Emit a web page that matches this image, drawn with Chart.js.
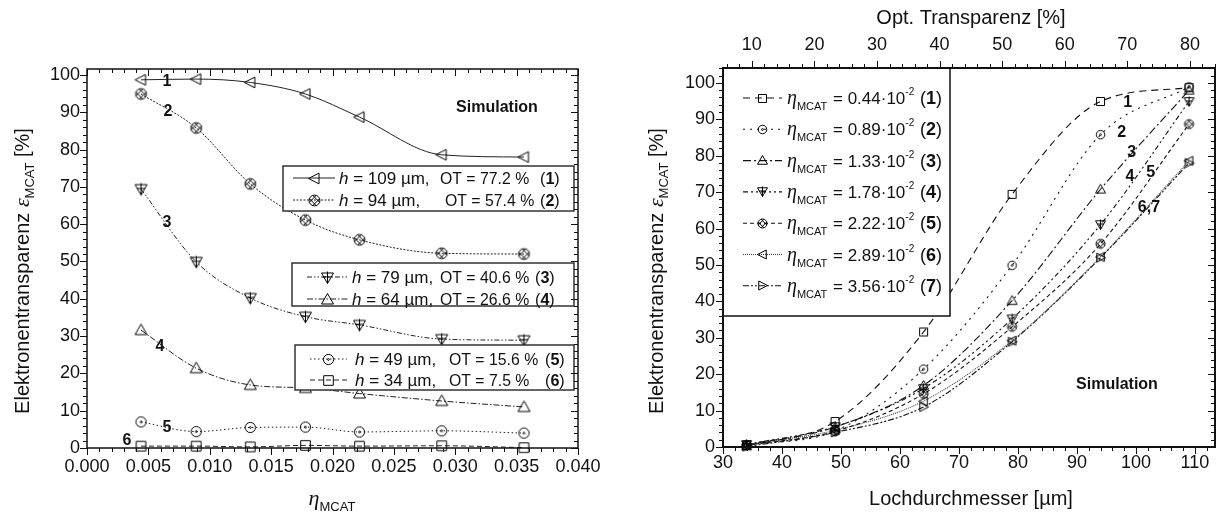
<!DOCTYPE html>
<html>
<head>
<meta charset="utf-8">
<script src="https://cdn.jsdelivr.net/npm/chart.js@4"></script>
<style>
  html, body { margin: 0; padding: 0; background: #fff; }
  #wrap { position: relative; width: 1222px; height: 520px; }
  canvas { position: absolute; top: 0; }
  #left { left: 0; }
  #right { left: 610px; }
</style>
</head>
<body>
<div id="wrap">
  <canvas id="left" width="610" height="520"></canvas>
  <canvas id="right" width="612" height="520"></canvas>
</div>
<script>
// grid parameters
const etaMcat = [0.0044, 0.0089, 0.0133, 0.0178, 0.0222, 0.0289, 0.0356];
const etaLabels = ['0.44', '0.89', '1.33', '1.78', '2.22', '2.89', '3.56'];
const holeDiam = [34, 49, 64, 79, 94, 109];
const optTrans = ['7.5', '15.6', '26.6', '40.6', '57.4', '77.2'];

// simulated electron transparency [%] for each hole diameter, over etaMcat
const eps34 = [0.5, 0.5, 0.3, 0.7, 0.5, 0.6, 0.1];
const eps49 = [7.0, 4.4, 5.5, 5.6, 4.3, 4.6, 4.0];
const eps64 = [31.6, 21.4, 16.9, 16.1, 14.6, 12.6, 11.0];
const eps79 = [69.4, 49.9, 40.2, 35.2, 33.0, 29.2, 28.9];
const eps94 = [94.9, 85.8, 70.8, 61.1, 55.8, 52.2, 52.0];
const eps109 = [98.7, 98.9, 98.0, 94.9, 88.7, 78.6, 78.0];
const epsByHole = [eps34, eps49, eps64, eps79, eps94, eps109];

const sans = '"Liberation Sans", Arial, sans-serif';
const serif = '"Liberation Serif", "Times New Roman", serif';
const ink = '#111';

// hollow marker glyphs drawn once into small canvases
function marker(kind, r) {
  const s = 2 * Math.ceil(r) + 5;
  const c = document.createElement('canvas');
  c.width = s; c.height = s;
  const g = c.getContext('2d');
  const m = s / 2;
  g.strokeStyle = '#000';
  g.lineWidth = 1;
  g.beginPath();
  if (kind === 'square') {
    g.rect(m - r * 0.8, m - r * 0.8, r * 1.6, r * 1.6);
  } else if (kind === 'circleDot') {
    g.arc(m, m, r * 0.85, 0, 2 * Math.PI);
    g.moveTo(m + 0.9, m);
    g.arc(m, m, 0.9, 0, 2 * Math.PI);
  } else if (kind === 'circleX') {
    // hatched cross: two strokes each way inside a ring
    g.arc(m, m, r * 0.9, 0, 2 * Math.PI);
    const d = r * 0.6, o = r * 0.28;
    [-o, o].forEach(k => {
      g.moveTo(m - d + k, m - d - k); g.lineTo(m + d + k, m + d - k);
      g.moveTo(m + d + k, m - d + k); g.lineTo(m - d + k, m + d + k);
    });
  } else if (kind === 'triUp') {
    g.moveTo(m, m - r); g.lineTo(m + r, m + r * 0.75); g.lineTo(m - r, m + r * 0.75); g.closePath();
  } else if (kind === 'triDownCross') {
    g.moveTo(m, m + r); g.lineTo(m + r, m - r * 0.75); g.lineTo(m - r, m - r * 0.75); g.closePath();
    g.moveTo(m, m - r); g.lineTo(m, m + r);
    g.moveTo(m - r * 0.7, m - r * 0.1); g.lineTo(m + r * 0.7, m - r * 0.1);
  } else if (kind === 'triLeft') {
    g.moveTo(m - r, m); g.lineTo(m + r * 0.75, m - r * 0.9); g.lineTo(m + r * 0.75, m + r * 0.9); g.closePath();
  } else if (kind === 'triRight') {
    g.moveTo(m + r, m); g.lineTo(m - r * 0.75, m - r * 0.9); g.lineTo(m - r * 0.75, m + r * 0.9); g.closePath();
  }
  g.stroke();
  return c;
}

// draws a run of text pieces with their own fonts and baseline shifts
function richWidth(ctx, parts) {
  let w = 0;
  parts.forEach(p => { ctx.font = p.f; w += ctx.measureText(p.t).width; });
  return w;
}
function drawRich(ctx, x, y, parts, hs = 1) {
  ctx.save();
  ctx.translate(x, y);
  ctx.scale(hs, 1);
  let cx = 0;
  parts.forEach(p => {
    ctx.font = p.f;
    ctx.fillText(p.t, cx, p.dy || 0);
    cx += ctx.measureText(p.t).width;
  });
  ctx.restore();
  return x + cx * hs;
}

function sample(ctx, ds, x0, x1, y) {
  ctx.save();
  ctx.strokeStyle = ds.borderColor;
  ctx.lineWidth = ds.borderWidth;
  ctx.setLineDash(ds.borderDash || []);
  ctx.beginPath(); ctx.moveTo(x0, y); ctx.lineTo(x1, y); ctx.stroke();
  ctx.restore();
  const im = ds.pointStyle;
  ctx.drawImage(im, Math.round((x0 + x1) / 2 - im.width / 2), Math.round(y - im.height / 2));
}

// frame around the plot area plus major/minor tick marks on every side
const frameTicks = {
  id: 'frameTicks',
  afterDraw(chart, args, opts) {
    const { ctx, chartArea: a } = chart;
    ctx.save();
    ctx.strokeStyle = ink;
    ctx.lineWidth = opts.frame;
    ctx.strokeRect(a.left, a.top, a.right - a.left, a.bottom - a.top);
    ctx.lineWidth = 1;
    ctx.beginPath();
    opts.sides.forEach(s => {
      const sc = chart.scales[s.scale];
      const n = Math.round((s.to - s.from) / s.minor);
      for (let i = 0; i <= n; i++) {
        const v = s.from + i * s.minor;
        const major = Math.abs(v / s.major - Math.round(v / s.major)) < 1e-6;
        const len = major ? 7 : 4;
        const p = Math.round(sc.getPixelForValue(v)) + 0.5;
        if (s.edge === 'bottom') { ctx.moveTo(p, a.bottom); ctx.lineTo(p, a.bottom + (s.out ? len : -len)); }
        if (s.edge === 'top') { ctx.moveTo(p, a.top); ctx.lineTo(p, a.top + (s.out ? -len : len)); }
        if (s.edge === 'left') { ctx.moveTo(a.left, p); ctx.lineTo(a.left + (s.out ? -len : len), p); }
        if (s.edge === 'right') { ctx.moveTo(a.right, p); ctx.lineTo(a.right + (s.out ? len : -len), p); }
      }
    });
    ctx.stroke();
    ctx.restore();
  }
};

const tickFont = { family: 'Liberation Sans', size: 18 };
const fSans = sz => sz + 'px ' + sans;
const fBold = sz => 'bold ' + sz + 'px ' + sans;

// ---------- left: transparency vs. eta_MCAT ----------
const leftStyles = [
  { eps: eps109, h: 5, mk: 'triLeft', dash: [], label: '1' },
  { eps: eps94, h: 4, mk: 'circleX', dash: [2, 1.5], label: '2' },
  { eps: eps79, h: 3, mk: 'triDownCross', dash: [5, 2, 1.5, 2, 1.5, 2], label: '3' },
  { eps: eps64, h: 2, mk: 'triUp', dash: [6, 2, 1.5, 2], label: '4' },
  { eps: eps49, h: 1, mk: 'circleDot', dash: [1.5, 2.5], label: '5' },
  { eps: eps34, h: 0, mk: 'square', dash: [5, 3], label: '6' }
];

const leftDatasets = leftStyles.map(s => ({
  data: etaMcat.map((x, i) => ({ x, y: s.eps[i] })),
  borderColor: '#222',
  borderWidth: 1,
  borderDash: s.dash,
  pointStyle: marker(s.mk, 6),
  pointRadius: 6,
  cubicInterpolationMode: 'monotone',
  fill: false,
  clip: false
}));

// curve numbers, in data coordinates
const leftCurveTags = [
  ['1', 0.00652, 98.1], ['2', 0.0066, 90.1], ['3', 0.00652, 60.3],
  ['4', 0.00595, 27.1], ['5', 0.00652, 5.4], ['6', 0.00326, 2.1]
];

// legend boxes: [left, top, right, bottom], sample line, text columns, rows
const leftBoxes = [
  { box: [283, 166, 574, 211], line: [293, 335], cols: [339, [440, 445], 540], rows: [178, 200], items: [0, 1] },
  { box: [292, 263, 574, 306], line: [307, 348], cols: [352, [440, 440], 535], rows: [277, 299], items: [2, 3] },
  { box: [295, 345, 574, 390], line: [310, 347], cols: [355, [449, 449], 545], rows: [359, 380], items: [4, 5] }
];

const leftDecor = {
  id: 'leftDecor',
  afterDatasetsDraw(chart) {
    const ctx = chart.ctx;
    const xs = chart.scales.x, ys = chart.scales.y;
    ctx.save();
    ctx.fillStyle = ink;
    ctx.textAlign = 'center';
    ctx.textBaseline = 'middle';
    ctx.font = fBold(16);
    leftCurveTags.forEach(([t, x, y]) => ctx.fillText(t, xs.getPixelForValue(x), ys.getPixelForValue(y)));
    ctx.fillText('Simulation', 497, 108);

    ctx.textAlign = 'left';
    ctx.textBaseline = 'alphabetic';
    leftBoxes.forEach(b => {
      const [l, t, r, btm] = b.box;
      ctx.fillStyle = '#fff';
      ctx.fillRect(l, t, r - l, btm - t);
      ctx.strokeStyle = '#333';
      ctx.lineWidth = 1.5;
      ctx.strokeRect(l, t, r - l, btm - t);
      ctx.fillStyle = ink;
      b.items.forEach((k, j) => {
        const st = leftStyles[k];
        const y = b.rows[j];
        sample(ctx, chart.data.datasets[k], b.line[0], b.line[1], y);
        const base = y + 6;
        drawRich(ctx, b.cols[0], base, [
          { t: 'h', f: 'italic ' + fSans(17) },
          { t: ' = ' + holeDiam[st.h] + ' µm,', f: fSans(17) }
        ]);
        drawRich(ctx, b.cols[1][j], base, [{ t: 'OT = ' + optTrans[st.h] + ' %', f: fSans(17) }], 0.93);
        drawRich(ctx, b.cols[2], base, [
          { t: '(', f: fSans(17) }, { t: st.label, f: fBold(17) }, { t: ')', f: fSans(17) }
        ], 0.95);
      });
    });
    ctx.restore();
  },
  afterDraw(chart) {
    const ctx = chart.ctx;
    ctx.save();
    ctx.fillStyle = ink;
    ctx.textBaseline = 'alphabetic';
    const yTitle = [
      { t: 'Elektronentransparenz ', f: fSans(20) },
      { t: 'ε', f: 'italic 22px ' + serif },
      { t: 'MCAT', f: fSans(13), dy: 5 },
      { t: ' [%]', f: fSans(20) }
    ];
    ctx.translate(22, 271);
    ctx.rotate(-Math.PI / 2);
    drawRich(ctx, -richWidth(ctx, yTitle) / 2, 7, yTitle);
    ctx.setTransform(1, 0, 0, 1, 0, 0);
    const xTitle = [
      { t: 'η', f: 'italic 22px ' + serif },
      { t: 'MCAT', f: fSans(13), dy: 6 }
    ];
    drawRich(ctx, 332 - richWidth(ctx, xTitle) / 2, 505, xTitle);
    ctx.restore();
  }
};

new Chart(document.getElementById('left'), {
  type: 'line',
  data: { datasets: leftDatasets },
  options: {
    responsive: false,
    animation: false,
    layout: { padding: { top: 69, right: 32, left: 0, bottom: 0 } },
    plugins: {
      legend: { display: false },
      tooltip: { enabled: false },
      frameTicks: {
        frame: 1.5,
        sides: [
          { scale: 'x', edge: 'bottom', out: true, from: 0, to: 0.04, minor: 0.001, major: 0.005 },
          { scale: 'x', edge: 'top', out: false, from: 0, to: 0.04, minor: 0.001, major: 0.005 },
          { scale: 'y', edge: 'left', out: true, from: 0, to: 100, minor: 2, major: 10 },
          { scale: 'y', edge: 'right', out: false, from: 0, to: 100, minor: 2, major: 10 }
        ]
      }
    },
    scales: {
      x: {
        type: 'linear', min: 0, max: 0.04,
        grid: { display: false, drawTicks: false }, border: { display: false },
        ticks: { stepSize: 0.005, includeBounds: false, font: tickFont, color: ink, padding: 8,
                 callback: v => v.toFixed(3) },
        afterFit: s => { s.height = 72; }
      },
      y: {
        type: 'linear', min: 0, max: 101.6,
        grid: { display: false, drawTicks: false }, border: { display: false },
        ticks: { stepSize: 10, includeBounds: false, font: tickFont, color: ink, padding: 7 },
        afterFit: s => { s.width = 87; }
      }
    }
  },
  plugins: [leftDecor, frameTicks]
});

// ---------- right: transparency vs. hole diameter ----------
const rightStyles = [
  { mk: 'square', dash: [7, 5], color: '#111' },
  { mk: 'circleDot', dash: [2, 5], color: '#111' },
  { mk: 'triUp', dash: [8, 3, 2, 3], color: '#111' },
  { mk: 'triDownCross', dash: [5, 3, 2, 3, 2, 3], color: '#111' },
  { mk: 'circleX', dash: [4, 3], color: '#111' },
  { mk: 'triLeft', dash: [1, 1], color: '#444' },
  { mk: 'triRight', dash: [6, 2, 2, 2, 2, 2], color: '#111' }
];

const rightDatasets = rightStyles.map((s, j) => ({
  data: holeDiam.map((h, i) => ({ x: h, y: epsByHole[i][j] })),
  borderColor: s.color,
  borderWidth: 1.1,
  borderDash: s.dash,
  pointStyle: marker(s.mk, 5),
  pointRadius: 5,
  cubicInterpolationMode: 'monotone',
  fill: false,
  clip: false,
  xAxisID: 'x'
}));

const rightCurveTags = [
  ['1', 98.6, 94.5], ['2', 97.6, 86.3], ['3', 99.3, 80.8],
  ['4', 99.0, 74.2], ['5', 102.5, 75.3], ['6,7', 102.2, 65.7]
];

const rightDecor = {
  id: 'rightDecor',
  afterDatasetsDraw(chart) {
    const ctx = chart.ctx;
    const xs = chart.scales.x, ys = chart.scales.y;
    ctx.save();
    ctx.fillStyle = ink;
    ctx.textAlign = 'center';
    ctx.textBaseline = 'middle';
    ctx.font = fBold(16);
    rightCurveTags.forEach(([t, x, y]) => ctx.fillText(t, xs.getPixelForValue(x), ys.getPixelForValue(y)));
    ctx.fillText('Simulation', 507, 385);

    // legend box
    const l = 113, t = 68, r = 340, b = 316;
    ctx.fillStyle = '#fff';
    ctx.fillRect(l, t, r - l, b - t);
    ctx.strokeStyle = ink;
    ctx.lineWidth = 1.5;
    ctx.strokeRect(l, t, r - l, b - t);
    ctx.fillStyle = ink;
    ctx.textAlign = 'left';
    ctx.textBaseline = 'alphabetic';
    rightStyles.forEach((s, j) => {
      const y = 98 + j * 31.3;
      sample(ctx, chart.data.datasets[j], 133, 172, y);
      const base = y + 6;
      drawRich(ctx, 177, base, [
        { t: 'η', f: 'italic 20px ' + serif },
        { t: 'MCAT', f: fSans(11), dy: 6 }
      ]);
      drawRich(ctx, 223, base, [
        { t: '= ' + etaLabels[j] + '·10', f: fSans(17) },
        { t: '-2', f: fSans(10), dy: -9 }
      ]);
      drawRich(ctx, 310, base, [
        { t: '(', f: fSans(18) }, { t: String(j + 1), f: fBold(18) }, { t: ')', f: fSans(18) }
      ]);
    });
    ctx.restore();
  },
  afterDraw(chart) {
    const ctx = chart.ctx;
    ctx.save();
    ctx.fillStyle = ink;
    ctx.textBaseline = 'alphabetic';
    const yTitle = [
      { t: 'Elektronentransparenz ', f: fSans(20) },
      { t: 'ε', f: 'italic 22px ' + serif },
      { t: 'MCAT', f: fSans(13), dy: 5 },
      { t: ' [%]', f: fSans(20) }
    ];
    ctx.translate(46, 271);
    ctx.rotate(-Math.PI / 2);
    drawRich(ctx, -richWidth(ctx, yTitle) / 2, 7, yTitle);
    ctx.setTransform(1, 0, 0, 1, 0, 0);
    ctx.textAlign = 'center';
    ctx.font = fSans(20);
    ctx.fillText('Lochdurchmesser [µm]', 361, 505);
    ctx.fillText('Opt. Transparenz [%]', 361, 24);
    ctx.restore();
  }
};

new Chart(document.getElementById('right'), {
  type: 'line',
  data: { datasets: rightDatasets },
  options: {
    responsive: false,
    animation: false,
    layout: { padding: { top: 0, right: 7, left: 0, bottom: 0 } },
    plugins: {
      legend: { display: false },
      tooltip: { enabled: false },
      frameTicks: {
        frame: 2,
        sides: [
          { scale: 'x', edge: 'bottom', out: true, from: 30, to: 112, minor: 2, major: 10 },
          { scale: 'x2', edge: 'top', out: true, from: 6, to: 84, minor: 2, major: 10 },
          { scale: 'y', edge: 'left', out: true, from: 0, to: 104, minor: 2, major: 10 },
          { scale: 'y', edge: 'right', out: false, from: 0, to: 104, minor: 2, major: 10 }
        ]
      }
    },
    scales: {
      x: {
        type: 'linear', position: 'bottom', min: 30, max: 113.4,
        grid: { display: false, drawTicks: false }, border: { display: false },
        ticks: { stepSize: 10, includeBounds: false, font: tickFont, color: ink, padding: 5 },
        afterFit: s => { s.height = 73; }
      },
      x2: {
        type: 'linear', position: 'top', min: 5.4, max: 84,
        grid: { display: false, drawTicks: false }, border: { display: false },
        ticks: { stepSize: 10, includeBounds: false, font: tickFont, color: ink, padding: 12 },
        afterFit: s => { s.height = 68; }
      },
      y: {
        type: 'linear', min: 0, max: 104.1,
        grid: { display: false, drawTicks: false }, border: { display: false },
        ticks: { stepSize: 10, includeBounds: false, font: tickFont, color: ink, padding: 8 },
        afterFit: s => { s.width = 113; }
      }
    }
  },
  plugins: [rightDecor, frameTicks]
});
</script>
</body>
</html>
